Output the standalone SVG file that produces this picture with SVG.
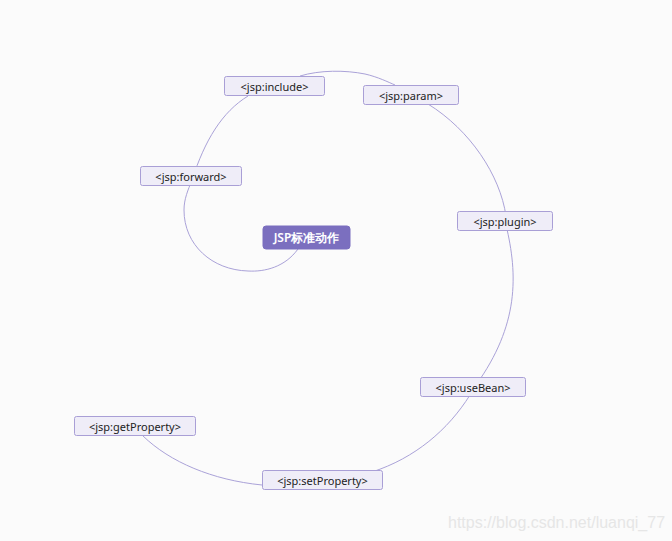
<svg xmlns="http://www.w3.org/2000/svg" width="672" height="541" viewBox="0 0 672 541">
<style>
.bg{fill:#fbfbfb}
.n rect{fill:#efedf8;stroke:#a99fd6;stroke-width:1}
.n text{font-family:"Noto Sans","Liberation Sans",sans-serif;font-size:11px;fill:#222;text-anchor:middle;dominant-baseline:central}
.c path{fill:none;stroke:#aaa2d8;stroke-width:1}
#root rect{fill:#7b6fbf;stroke:#7b6fbf}
#root text{fill:#fff;font-size:12px;font-weight:600}
.wm{font-family:"Liberation Sans",sans-serif;font-size:16px;fill:#e6e6e6}
</style>
<rect class="bg" width="672" height="541"/>
<g class="c">
<path d="M298,249 C285,267 265,272 248,271 C212,270 184,245 184,210 C184,199 188,190 192,180"/>
<path d="M192,180 C205,140 222,112 248,96"/>
<path d="M300,76 C320,70 345,70 365,74 C378,77 388,82 395,85"/>
<path d="M428,104 C470,130 500,175 506,216"/>
<path d="M506,225 C518,275 519,325 476,385"/>
<path d="M470,395 C448,430 415,458 372,472"/>
<path d="M262,485 C212,480 170,462 143,436"/>
</g>
<g id="root" class="n"><rect x="263" y="226" width="87" height="23" rx="3"/><text x="306.5" y="237.5">JSP标准动作</text></g>
<g id="include" class="n"><rect x="224.5" y="76.5" width="100" height="19" rx="2"/><text x="274.5" y="86">&lt;jsp:include&gt;</text></g>
<g id="param" class="n"><rect x="363.5" y="85.5" width="95" height="19" rx="2"/><text x="411" y="95">&lt;jsp:param&gt;</text></g>
<g id="forward" class="n"><rect x="140.5" y="166.5" width="101" height="19" rx="2"/><text x="191" y="176">&lt;jsp:forward&gt;</text></g>
<g id="plugin" class="n"><rect x="457.5" y="211.5" width="95" height="19" rx="2"/><text x="505" y="221">&lt;jsp:plugin&gt;</text></g>
<g id="useBean" class="n"><rect x="420.5" y="377.5" width="105" height="19" rx="2"/><text x="473" y="387">&lt;jsp:useBean&gt;</text></g>
<g id="getProperty" class="n"><rect x="74.5" y="416.5" width="121" height="19" rx="2"/><text x="135" y="426">&lt;jsp:getProperty&gt;</text></g>
<g id="setProperty" class="n"><rect x="262.5" y="470.5" width="120" height="19" rx="2"/><text x="322.5" y="480">&lt;jsp:setProperty&gt;</text></g>
<text class="wm" x="448" y="528">https://blog.csdn.net/luanqi_77</text>
</svg>
